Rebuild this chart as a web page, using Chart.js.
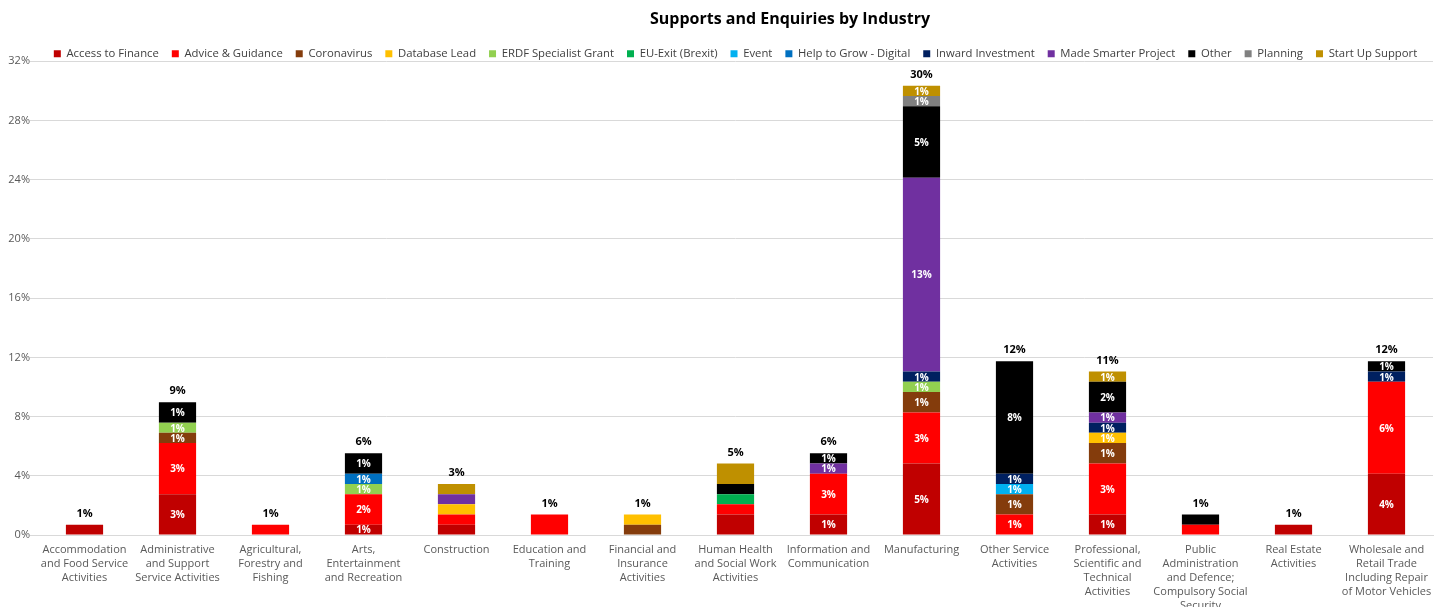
<!DOCTYPE html>
<html lang="en">
<head>
<meta charset="UTF-8">
<title>Supports and Enquiries by Industry</title>
<script src="https://cdn.jsdelivr.net/npm/chart.js"></script>
<style>
    body { margin: 0; background: #fff; }
    .chart-container { position: relative; width: 1441px; height: 607px; }
</style>
</head>
<body>
<div class="chart-container">
    <canvas id="graficoIndustria"></canvas>
</div>
<script>
// categorias (com quebras de linha como no original)
const industries = [
    ['Accommodation', 'and Food Service', 'Activities'],
    ['Administrative', 'and Support', 'Service Activities'],
    ['Agricultural,', 'Forestry and', 'Fishing'],
    ['Arts,', 'Entertainment', 'and Recreation'],
    ['Construction'],
    ['Education and', 'Training'],
    ['Financial and', 'Insurance', 'Activities'],
    ['Human Health', 'and Social Work', 'Activities'],
    ['Information and', 'Communication'],
    ['Manufacturing'],
    ['Other Service', 'Activities'],
    ['Professional,', 'Scientific and', 'Technical', 'Activities'],
    ['Public', 'Administration', 'and Defence;', 'Compulsory Social', 'Security'],
    ['Real Estate', 'Activities'],
    ['Wholesale and', 'Retail Trade', 'Including Repair', 'of Motor Vehicles']
];

// valores em % por tipo de suporte
const accessToFinance   = [0.69, 2.76, 0, 0.69, 0.69, 0, 0, 1.38, 1.38, 4.83, 0, 1.38, 0, 0.69, 4.14];
const adviceGuidance    = [0, 3.45, 0.69, 2.07, 0.69, 1.38, 0, 0.69, 2.76, 3.45, 1.38, 3.45, 0.69, 0, 6.21];
const coronavirus       = [0, 0.69, 0, 0, 0, 0, 0.69, 0, 0, 1.38, 1.38, 1.38, 0, 0, 0];
const databaseLead      = [0, 0, 0, 0, 0.69, 0, 0.69, 0, 0, 0, 0, 0.69, 0, 0, 0];
const erdfGrant         = [0, 0.69, 0, 0.69, 0, 0, 0, 0, 0, 0.69, 0, 0, 0, 0, 0];
const euExit            = [0, 0, 0, 0, 0, 0, 0, 0.69, 0, 0, 0, 0, 0, 0, 0];
const eventSupport      = [0, 0, 0, 0, 0, 0, 0, 0, 0, 0, 0.69, 0, 0, 0, 0];
const helpToGrow        = [0, 0, 0, 0.69, 0, 0, 0, 0, 0, 0, 0, 0, 0, 0, 0];
const inwardInvestment  = [0, 0, 0, 0, 0, 0, 0, 0, 0, 0.69, 0.69, 0.69, 0, 0, 0.69];
const madeSmarter       = [0, 0, 0, 0, 0.69, 0, 0, 0, 0.69, 13.10, 0, 0.69, 0, 0, 0];
const other             = [0, 1.38, 0, 1.38, 0, 0, 0, 0.69, 0.69, 4.83, 7.59, 2.07, 0.69, 0, 0.69];
const planning          = [0, 0, 0, 0, 0, 0, 0, 0, 0, 0.69, 0, 0, 0, 0, 0];
const startUpSupport    = [0, 0, 0, 0, 0.69, 0, 0, 1.38, 0, 0.69, 0, 0.69, 0, 0, 0];

// barras que mostram o rótulo de cada segmento
const showSegmentLabels = [false, true, false, true, false, false, false, false, true, true, true, true, false, false, true];

const yTicks = [0, 4, 8, 12, 16, 20, 24, 28, 32];

const series = [
    { label: 'Access to Finance', data: accessToFinance, color: '#C00000' },
    { label: 'Advice & Guidance', data: adviceGuidance, color: '#FF0000' },
    { label: 'Coronavirus', data: coronavirus, color: '#843C0C' },
    { label: 'Database Lead', data: databaseLead, color: '#FFC000' },
    { label: 'ERDF Specialist Grant', data: erdfGrant, color: '#92D050' },
    { label: 'EU-Exit (Brexit)', data: euExit, color: '#00B050' },
    { label: 'Event', data: eventSupport, color: '#00B0F0' },
    { label: 'Help to Grow - Digital', data: helpToGrow, color: '#0070C0' },
    { label: 'Inward Investment', data: inwardInvestment, color: '#002060' },
    { label: 'Made Smarter Project', data: madeSmarter, color: '#7030A0' },
    { label: 'Other', data: other, color: '#000000' },
    { label: 'Planning', data: planning, color: '#808080' },
    { label: 'Start Up Support', data: startUpSupport, color: '#BF9000' }
];

const TITLE = 'Supports and Enquiries by Industry';
const FONT = "'Open Sans', sans-serif";
Chart.defaults.font.family = FONT;

// título, rótulos dentro dos segmentos e totais acima das barras
const labelsPlugin = {
    id: 'labelsPlugin',
    beforeInit(chart) {
        // legenda mais baixa, o gráfico começa logo abaixo dela
        const fit = chart.legend.fit;
        chart.legend.fit = function () {
            fit.call(this);
            this.height -= 8;
        };
    },
    afterDatasetsDraw(chart) {
        const ctx = chart.ctx;
        const yScale = chart.scales.y;
        ctx.save();
        ctx.textAlign = 'center';
        ctx.textBaseline = 'middle';

        ctx.font = 'bold 16px ' + FONT;
        ctx.fillStyle = '#000000';
        ctx.fillText(TITLE, 790, 19);

        ctx.font = 'bold 10px ' + FONT;
        ctx.fillStyle = '#ffffff';
        chart.data.datasets.forEach((ds, i) => {
            const meta = chart.getDatasetMeta(i);
            meta.data.forEach((bar, j) => {
                const v = ds.data[j];
                if (!v || !showSegmentLabels[j]) return;
                ctx.fillText(Math.round(v) + '%', bar.x, (bar.y + bar.base) / 2 + 1);
            });
        });

        ctx.font = 'bold 11px ' + FONT;
        ctx.fillStyle = '#000000';
        industries.forEach((_, j) => {
            let total = 0;
            chart.data.datasets.forEach(ds => { total += ds.data[j]; });
            const x = chart.getDatasetMeta(0).data[j].x;
            ctx.fillText(Math.round(total) + '%', x, yScale.getPixelForValue(total) - 11);
        });
        ctx.restore();
    }
};

const ctx = document.getElementById('graficoIndustria').getContext('2d');
new Chart(ctx, {
    type: 'bar',
    data: {
        labels: industries,
        datasets: series.map(s => ({
            label: s.label,
            data: s.data,
            backgroundColor: s.color,
            borderWidth: 0,
            categoryPercentage: 1,
            barPercentage: 0.4
        }))
    },
    options: {
        responsive: true,
        maintainAspectRatio: false,
        animation: false,
        layout: { padding: { left: 0, right: 8, top: 35, bottom: 0 } },
        scales: {
            x: {
                stacked: true,
                grid: { display: false },
                border: { color: '#D9D9D9' },
                ticks: {
                    autoSkip: false,
                    maxRotation: 0,
                    color: '#595959',
                    font: { size: 11, lineHeight: 1.27 },
                    padding: 0
                },
                afterFit(scale) { scale.height = 72; }
            },
            y: {
                stacked: true,
                min: 0,
                max: 32,
                afterBuildTicks(scale) { scale.ticks = yTicks.map(v => ({ value: v })); },
                grid: { color: '#D9D9D9' },
                border: { display: false },
                ticks: {
                    color: '#595959',
                    font: { size: 11 },
                    padding: 0,
                    callback: v => v + '%'
                },
                afterFit(scale) { scale.width = 38; }
            }
        },
        plugins: {
            title: { display: false },
            legend: {
                position: 'top',
                fullSize: false,
                labels: {
                    boxWidth: 7,
                    boxHeight: 7,
                    padding: 13,
                    color: '#404040',
                    font: { size: 11.3 }
                }
            },
            tooltip: { enabled: false }
        }
    },
    plugins: [labelsPlugin]
});
</script>
</body>
</html>
